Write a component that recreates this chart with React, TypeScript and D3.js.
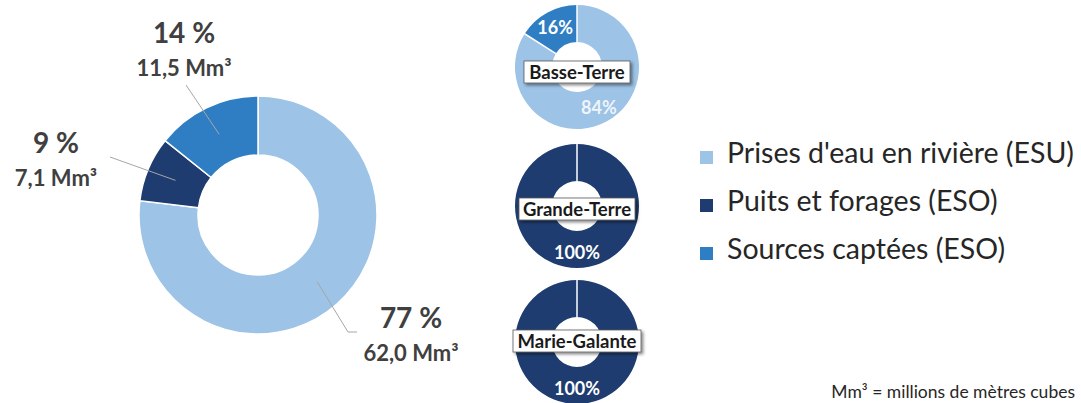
import React from "react";
import * as d3 from "d3";

const categories = ["Prises d'eau en rivière (ESU)", "Puits et forages (ESO)", "Sources captées (ESO)"];
const colors = ["#9dc3e6", "#1f3c70", "#2f7ec4"];
const volumes = [62.0, 7.1, 11.5];
const volumeLabels = ["62,0 Mm³", "7,1 Mm³", "11,5 Mm³"];
const percentLabels = ["77 %", "9 %", "14 %"];

const islands = ["Basse-Terre", "Grande-Terre", "Marie-Galante"];
const islandShares = [
  [84, 0, 16],
  [0, 100, 0],
  [0, 100, 0],
];

const W = 1081;
const H = 403;
const FONT = "Lato, 'Open Sans', sans-serif";

// layout
const main = { cx: 258, cy: 215, r0: 60, r1: 119 };
const labelPos = [
  { x: 411, y: 328, lx: 357, ly: 332, bx: 348, by: 332 },
  { x: 56, y: 153, lx: 110, ly: 157, bx: 110, by: 157 },
  { x: 184, y: 43, lx: 186, ly: 85, bx: 186, by: 85 },
];
const small = { cx: 577, cys: [67, 206, 342], r0: 25, r1: 62 };
const boxW = [106, 116, 128];
const boxDy = [5, 3, -1];

export default function App() {
  const pie = d3.pie<number>().sort(null).value((d) => d);
  const mainArcs = pie(volumes);
  const arc = d3.arc<d3.PieArcDatum<number>>().innerRadius(main.r0).outerRadius(main.r1);
  const midR = (main.r0 + main.r1) / 2;
  const cent = d3.arc<d3.PieArcDatum<number>>().innerRadius(midR).outerRadius(midR);

  const sArc = d3.arc<d3.PieArcDatum<number>>().innerRadius(small.r0).outerRadius(small.r1);
  const sMid = (small.r0 + small.r1) / 2 + 2;
  const sCent = d3.arc<d3.PieArcDatum<number>>().innerRadius(sMid).outerRadius(sMid);

  const sep = (a: number, r0: number, r1: number) => ({
    x1: r0 * Math.sin(a),
    y1: -r0 * Math.cos(a),
    x2: r1 * Math.sin(a),
    y2: -r1 * Math.cos(a),
  });

  return (
    <svg width={W} height={H} style={{ position: "absolute", left: 0, top: 0, background: "#fff" }} fontFamily={FONT}>
      <defs>
        <filter id="sh" x="-20%" y="-40%" width="140%" height="180%">
          <feDropShadow dx="2" dy="2" stdDeviation="1.5" floodColor="#000" floodOpacity="0.45" />
        </filter>
      </defs>
      {/* main donut */}
      <g transform={`translate(${main.cx},${main.cy})`}>
        {mainArcs.map((a, i) => (
          <path key={i} d={arc(a) || ""} fill={colors[i]} stroke="#fff" strokeWidth={1.5} />
        ))}
        {mainArcs.map((a, i) => {
          const [cx, cy] = cent.centroid(a);
          const p = labelPos[i];
          const pts = [
            [cx, cy],
            [p.bx - main.cx, p.by - main.cy],
            [p.lx - main.cx, p.ly - main.cy],
          ];
          return (
            <polyline
              key={"l" + i}
              points={pts.map((q) => q.join(",")).join(" ")}
              fill="none"
              stroke="#a6a6a6"
              strokeWidth={1}
            />
          );
        })}
      </g>
      {mainArcs.map((a, i) => (
        <g key={"t" + i}>
          <text x={labelPos[i].x} y={labelPos[i].y} textAnchor="middle" fontSize={28} fontWeight={700} fill="#404040">
            {percentLabels[i]}
          </text>
          <text x={labelPos[i].x} y={labelPos[i].y + 33} textAnchor="middle" fontSize={22} fontWeight={700} fill="#404040">
            {volumeLabels[i]}
          </text>
        </g>
      ))}

      {/* small donuts */}
      {islands.map((name, k) => {
        const arcs = pie(islandShares[k]);
        const cy = small.cys[k];
        return (
          <g key={name} transform={`translate(${small.cx},${cy})`}>
            {arcs.map((a, i) =>
              a.value > 0 ? <path key={i} d={sArc(a) || ""} fill={colors[i]} /> : null
            )}
            {arcs.map((a, i) => {
              if (a.value <= 0) return null;
              const s = sep(a.startAngle, small.r0, small.r1 + 1);
              return <line key={"s" + i} {...s} stroke="#fff" strokeWidth={1.5} />;
            })}
            {arcs.map((a, i) => {
              if (a.value <= 0) return null;
              const [x, y] = sCent.centroid(a);
              return (
                <text
                  key={"p" + i}
                  x={x}
                  y={y + 7}
                  textAnchor="middle"
                  fontSize={18}
                  fontWeight={700}
                  fill="#fff"
                  fillOpacity={i === 0 ? 0.85 : 1}
                >
                  {a.value}%
                </text>
              );
            })}
            <rect
              x={-boxW[k] / 2}
              y={boxDy[k] - 11}
              width={boxW[k]}
              height={22}
              fill="#fff"
              stroke="#595959"
              strokeWidth={0.8}
              filter="url(#sh)"
            />
            <text x={0} y={boxDy[k] + 6.5} textAnchor="middle" fontSize={18.5} fontWeight={700} fill="#1a1a1a">
              {name}
            </text>
          </g>
        );
      })}

      {/* legend */}
      {categories.map((c, i) => (
        <g key={c} transform={`translate(700,${163 + i * 48})`}>
          <rect x={0} y={-12} width={13} height={13} fill={colors[i]} />
          <text x={27} y={0} fontSize={28.5} fill="#262626">
            {c}
          </text>
        </g>
      ))}

      <text x={1075} y={398} textAnchor="end" fontSize={17.5} fill="#262626">
        Mm³ = millions de mètres cubes
      </text>
    </svg>
  );
}
